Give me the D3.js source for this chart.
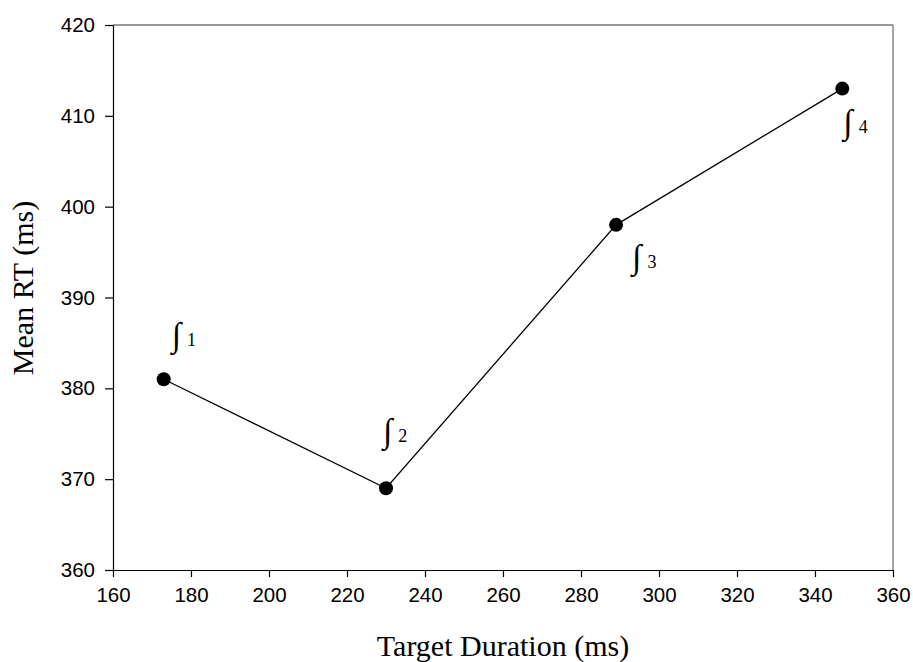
<!DOCTYPE html>
<html><head><meta charset="utf-8">
<script src="https://cdn.jsdelivr.net/npm/d3@7"></script>
<style>body{margin:0;background:#fff}svg{display:block}</style>
</head><body>
<script>
const durations = [173, 230, 289, 347];
const meanRT = [381, 369, 398, 413];
const labels = ["1", "2", "3", "4"];
const xTicks = [160, 180, 200, 220, 240, 260, 280, 300, 320, 340, 360];
const yTicks = [360, 370, 380, 390, 400, 410, 420];

const W = 913, H = 662;
const L = 113, R = 893, T = 25, B = 570;
const svg = d3.select("body").append("svg").attr("width", W).attr("height", H);
const x = d3.scaleLinear().domain([160, 360]).range([L, R]);
const y = d3.scaleLinear().domain([360, 420]).range([B, T]);

// frame top/right
svg.append("line").attr("x1", L).attr("x2", R).attr("y1", T).attr("y2", T).attr("stroke", "#333").attr("stroke-width", 1.2);
svg.append("line").attr("x1", R).attr("x2", R).attr("y1", T).attr("y2", B).attr("stroke", "#666").attr("stroke-width", 1.2);

const xa = svg.append("g").attr("transform", `translate(0,${B})`)
  .call(d3.axisBottom(x).tickValues(xTicks).tickSize(7).tickPadding(10).tickSizeOuter(0));
const ya = svg.append("g").attr("transform", `translate(${L},0)`)
  .call(d3.axisLeft(y).tickValues(yTicks).tickSize(8).tickPadding(10).tickSizeOuter(0));
[xa, ya].forEach(g => {
  g.selectAll("path,line").attr("stroke", "#000").attr("stroke-width", 1.2);
  g.selectAll("text").attr("font-family", "Liberation Sans, Arial, sans-serif").attr("font-size", 20.5).attr("fill", "#000");
});

const data = durations.map((d, i) => ({x: d, y: meanRT[i], l: labels[i]}));
svg.append("path").datum(data)
  .attr("d", d3.line().x(d => x(d.x)).y(d => y(d.y)))
  .attr("fill", "none").attr("stroke", "#000").attr("stroke-width", 1.3);
svg.selectAll("circle.pt").data(data).join("circle")
  .attr("cx", d => x(d.x)).attr("cy", d => y(d.y)).attr("r", 7).attr("fill", "#000");

const offs = [[8, -33], [-3, -46], [16, 43], [1, 44]];
const ann = svg.selectAll("text.ann").data(data).join("text")
  .attr("x", (d, i) => x(d.x) + offs[i][0]).attr("y", (d, i) => y(d.y) + offs[i][1])
  .attr("font-family", "Liberation Serif, Times New Roman, serif").attr("fill", "#000");
ann.append("tspan").attr("font-size", 34).text("∫");
ann.append("tspan").attr("font-size", 18).attr("dx", 6).text(d => d.l);

svg.append("text").attr("x", (L + R) / 2).attr("y", 656).attr("text-anchor", "middle")
  .attr("font-family", "Liberation Serif, Times New Roman, serif").attr("font-size", 30).text("Target Duration (ms)");
svg.append("text").attr("transform", `translate(33,288) rotate(-90)`).attr("text-anchor", "middle")
  .attr("font-family", "Liberation Serif, Times New Roman, serif").attr("font-size", 30).text("Mean RT (ms)");
</script>
</body></html>
